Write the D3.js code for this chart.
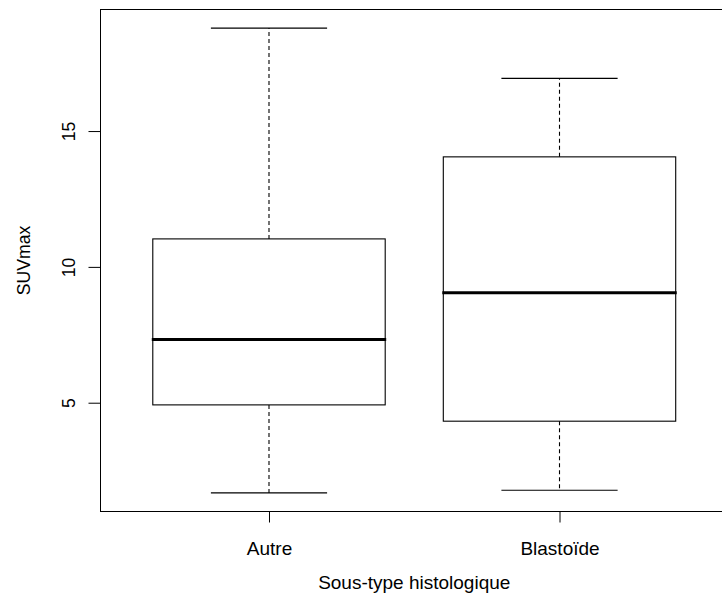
<!DOCTYPE html>
<html>
<head>
<meta charset="utf-8">
<script src="https://cdn.jsdelivr.net/npm/d3@7"></script>
<style>
  html, body { margin: 0; padding: 0; background: #fff; }
  svg { display: block; }
  text { font-family: "Liberation Sans", Arial, Helvetica, sans-serif; fill: #000; }
</style>
</head>
<body>
<svg id="chart" width="722" height="603"></svg>
<script>
// Five-number summaries of SUVmax per histological subtype
const categories = ["Autre", "Blastoïde"];
const whiskerLow  = [1.68, 1.78];
const q1          = [4.92, 4.32];
const medians     = [7.33, 9.05];
const q3          = [11.03, 14.05];
const whiskerHigh = [18.79, 16.94];
const yTicks = [5, 10, 15];

const xTitle = "Sous-type histologique";
const yTitle = "SUVmax";

const svg = d3.select("#chart");

// Plot frame (right side runs past the canvas edge)
const frame = { left: 100.5, right: 728, top: 9.5, bottom: 511.5 };

// R-style 4% padding around the data range
const lo = d3.min(whiskerLow), hi = d3.max(whiskerHigh);
const pad = 0.04 * (hi - lo);
const y = d3.scaleLinear().domain([lo - pad, hi + pad]).range([frame.bottom, frame.top]);

const n = categories.length;
const x = d3.scaleLinear()
  .domain([0.5 - 0.04 * n, n + 0.5 + 0.04 * n])
  .range([frame.left, frame.right]);

const boxHalf = 0.4, capHalf = 0.2;

const rows = categories.map((c, i) => ({
  name: c, pos: i + 1,
  lo: whiskerLow[i], q1: q1[i], med: medians[i], q3: q3[i], hi: whiskerHigh[i]
}));

const g = svg.append("g");

// Whiskers (dashed)
rows.forEach(d => {
  g.append("line")
    .attr("x1", x(d.pos)).attr("x2", x(d.pos))
    .attr("y1", y(d.q3)).attr("y2", y(d.hi))
    .attr("stroke", "#000").attr("stroke-width", 1.1).attr("stroke-dasharray", "4,3");
  g.append("line")
    .attr("x1", x(d.pos)).attr("x2", x(d.pos))
    .attr("y1", y(d.q1)).attr("y2", y(d.lo))
    .attr("stroke", "#000").attr("stroke-width", 1.1).attr("stroke-dasharray", "4,3");
  // Staples
  [d.lo, d.hi].forEach(v => {
    g.append("line")
      .attr("x1", x(d.pos - capHalf)).attr("x2", x(d.pos + capHalf))
      .attr("y1", y(v)).attr("y2", y(v))
      .attr("stroke", "#000").attr("stroke-width", 1.1);
  });
  // Box
  g.append("rect")
    .attr("x", x(d.pos - boxHalf))
    .attr("y", y(d.q3))
    .attr("width", x(d.pos + boxHalf) - x(d.pos - boxHalf))
    .attr("height", y(d.q1) - y(d.q3))
    .attr("fill", "none").attr("stroke", "#000").attr("stroke-width", 1.1);
  // Median
  g.append("line")
    .attr("x1", x(d.pos - boxHalf) - 1).attr("x2", x(d.pos + boxHalf) + 1)
    .attr("y1", y(d.med)).attr("y2", y(d.med))
    .attr("stroke", "#000").attr("stroke-width", 3);
});

// Frame
svg.append("rect")
  .attr("x", frame.left).attr("y", frame.top)
  .attr("width", frame.right - frame.left)
  .attr("height", frame.bottom - frame.top)
  .attr("fill", "none").attr("stroke", "#000").attr("stroke-width", 1);

// Y axis
const yAxis = svg.append("g")
  .attr("transform", `translate(${frame.left},0)`)
  .call(d3.axisLeft(y).tickValues(yTicks).tickSize(12).tickFormat(d3.format("d")));
yAxis.select(".domain").remove();
yAxis.selectAll(".tick line").attr("stroke", "#000").attr("stroke-width", 1);
yAxis.selectAll(".tick text")
  .attr("transform", "rotate(-90)")
  .attr("x", 0).attr("y", -26).attr("dy", 0)
  .attr("text-anchor", "middle")
  .style("font-size", "17.6px")
  .style("font-family", "'Liberation Sans', Arial, sans-serif");

// X axis
const xAxis = svg.append("g")
  .attr("transform", `translate(0,${frame.bottom})`)
  .call(d3.axisBottom(x).tickValues(rows.map(d => d.pos)).tickSize(11)
    .tickFormat((d, i) => categories[i]));
xAxis.select(".domain").remove();
xAxis.selectAll(".tick line").attr("stroke", "#000").attr("stroke-width", 1);
xAxis.selectAll(".tick text")
  .attr("y", 43).attr("dy", 0)
  .style("font-size", "19px")
  .style("font-family", "'Liberation Sans', Arial, sans-serif");

// Axis titles
svg.append("text")
  .attr("x", (frame.left + frame.right) / 2)
  .attr("y", 589)
  .attr("text-anchor", "middle")
  .style("font-size", "19px")
  .text(xTitle);

svg.append("text")
  .attr("transform", `translate(30,${(frame.top + frame.bottom) / 2}) rotate(-90)`)
  .attr("text-anchor", "middle")
  .style("font-size", "17.6px")
  .text(yTitle);
</script>
</body>
</html>
